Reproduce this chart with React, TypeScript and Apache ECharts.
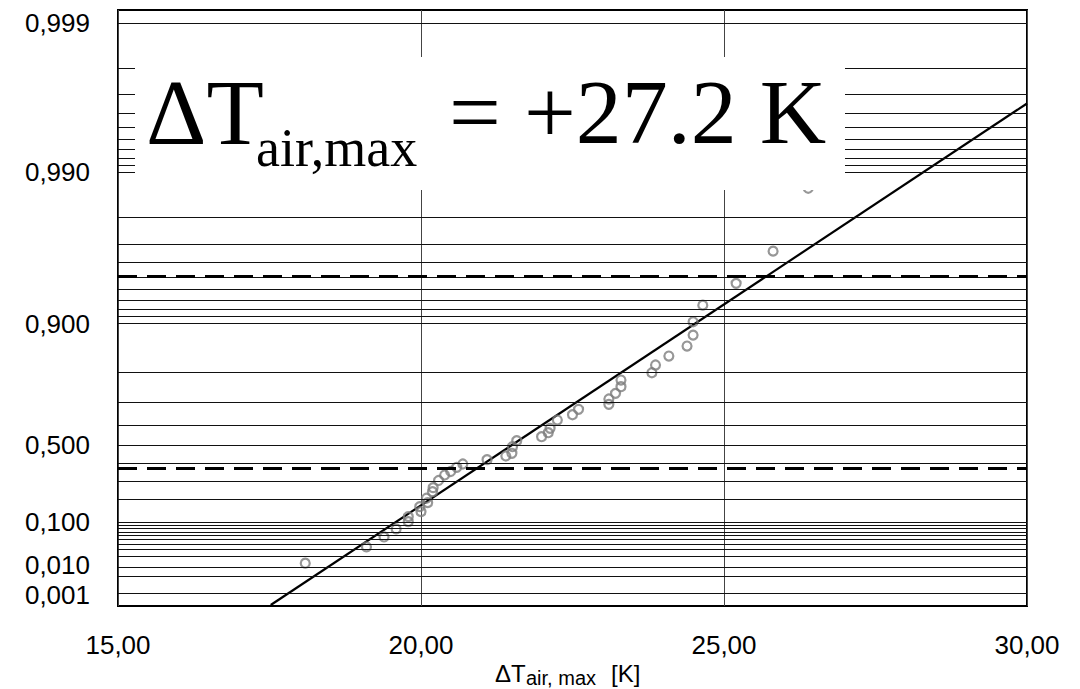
import React, { useEffect, useRef } from "react";
import * as echarts from "echarts";

// ---- data ----
const xTicks = [15, 20, 25, 30];
const gridProbs = [
  0.001, 0.005, 0.01, 0.02, 0.03, 0.04, 0.05, 0.06, 0.07, 0.08, 0.09, 0.1,
  0.2, 0.3, 0.4, 0.5, 0.6, 0.7, 0.8, 0.9, 0.91, 0.92, 0.93, 0.94, 0.95, 0.96,
  0.97, 0.98, 0.99, 0.991, 0.992, 0.993, 0.994, 0.995, 0.996, 0.997, 0.998, 0.999,
];
const labelProbs = [0.001, 0.01, 0.1, 0.5, 0.9, 0.99, 0.999];
const labelTexts = ["0,001", "0,010", "0,100", "0,500", "0,900", "0,990", "0,999"];
const dashedProbs = [0.368, 0.951];
const obsX = [
  18.09, 19.1, 19.39, 19.59, 19.79, 19.79, 20.0, 19.98, 20.11, 20.09, 20.19,
  20.2, 20.29, 20.39, 20.49, 20.59, 20.69, 21.09, 21.4, 21.5, 21.51, 21.58,
  21.99, 22.1, 22.13, 22.25, 22.5, 22.6, 23.1, 23.1, 23.21, 23.3, 23.3, 23.81,
  23.87, 24.09, 24.39, 24.49, 24.49, 24.65, 25.2, 25.81, 26.39,
];
const obsP = [
  0.0131, 0.0345, 0.0559, 0.0783, 0.1028, 0.1219, 0.1426, 0.165, 0.1838,
  0.2055, 0.2396, 0.2611, 0.3009, 0.332, 0.3519, 0.3759, 0.3947, 0.419,
  0.4399, 0.4549, 0.4912, 0.5232, 0.544, 0.5643, 0.586, 0.625, 0.6487,
  0.6717, 0.6919, 0.7123, 0.733, 0.7556, 0.7767, 0.798, 0.8186, 0.8402,
  0.8615, 0.8818, 0.9028, 0.924, 0.9452, 0.9664, 0.9872,
];
const fitX = [17.52, 30.0];
const fitP = [0.00025, 0.99655];
const axisRangeP = [0.00022, 0.99919];

// Gumbel reduced variate (probability paper scale)
const gumbel = (p: number) => -Math.log(-Math.log(p));

const SANS = "'Liberation Sans', Arial, sans-serif";
const SERIF = "'Liberation Serif', 'Times New Roman', serif";

export default function App() {
  const ref = useRef<HTMLDivElement>(null);

  useEffect(() => {
    if (!ref.current) return;
    const chart = echarts.init(ref.current, null, { renderer: "svg" });

    const gridLineData = gridProbs.map((p) => {
      const li = labelProbs.indexOf(p);
      const nudge = p === 0.001 ? 2 : p === 0.01 ? -2 : 0;
      return {
        yAxis: gumbel(p),
        lineStyle: { color: "#111", width: 1, type: "solid" },
        label:
          li >= 0
            ? {
                show: true,
                position: "start",
                distance: 28,
                offset: [0, nudge],
                formatter: labelTexts[li],
                color: "#000",
                fontSize: 26,
                lineHeight: 22,
                fontFamily: SANS,
              }
            : { show: false },
      };
    });
    const dashedData = dashedProbs.map((p) => ({
      yAxis: gumbel(p),
      lineStyle: { color: "#000", width: 3, type: [19, 10] },
      label: { show: false },
    }));

    chart.setOption({
      animation: false,
      backgroundColor: "#fff",
      grid: {
        left: 118,
        right: 53,
        top: 10,
        bottom: 83,
        containLabel: false,
        outerBoundsMode: "none",
        show: true,
        borderColor: "#000",
        borderWidth: 2,
        backgroundColor: "rgba(0,0,0,0)",
      },
      xAxis: {
        type: "value",
        min: xTicks[0],
        max: xTicks[xTicks.length - 1],
        interval: xTicks[1] - xTicks[0],
        axisLine: { show: false },
        axisTick: { show: false },
        splitLine: { show: true, lineStyle: { color: "#444", width: 1 } },
        axisLabel: {
          margin: 26,
          color: "#000",
          fontSize: 26,
          fontFamily: SANS,
          formatter: (v: number) => v.toFixed(2).replace(".", ","),
        },
      },
      yAxis: {
        type: "value",
        min: gumbel(axisRangeP[0]),
        max: gumbel(axisRangeP[1]),
        axisLine: { show: false },
        axisTick: { show: false },
        axisLabel: { show: false },
        splitLine: { show: false },
      },
      series: [
        {
          type: "line",
          data: [],
          z: 1,
          silent: true,
          markLine: {
            silent: true,
            symbol: ["none", "none"],
            animation: false,
            data: [...gridLineData, ...dashedData],
          },
        },
        {
          type: "line",
          z: 2,
          silent: true,
          clip: true,
          symbol: "none",
          lineStyle: { color: "#000", width: 2.2 },
          data: fitX.map((x, i) => [x, gumbel(fitP[i])]),
        },
        {
          type: "scatter",
          z: 3,
          silent: true,
          symbol: "circle",
          symbolSize: 9,
          itemStyle: {
            color: "rgba(255,255,255,0)",
            borderColor: "#7d7d7d",
            borderWidth: 2.2,
          },
          data: obsX.map((x, i) => [x, gumbel(obsP[i])]),
        },
      ],
      graphic: [
        {
          type: "rect",
          z: 100,
          shape: { x: 135, y: 57, width: 710, height: 133 },
          style: { fill: "#fff" },
        },
        {
          type: "text",
          z: 101,
          x: 146,
          y: 112,
          style: { text: "ΔT", font: `94px ${SERIF}`, fill: "#000", align: "left", verticalAlign: "middle" },
        },
        {
          type: "text",
          z: 101,
          x: 256,
          y: 148,
          style: { text: "air,max", font: `54px ${SERIF}`, fill: "#000", align: "left", verticalAlign: "middle" },
        },
        {
          type: "text",
          z: 101,
          x: 449,
          y: 112,
          style: { text: "= +27.2 K", font: `92px ${SERIF}`, fill: "#000", align: "left", verticalAlign: "middle" },
        },
        {
          type: "text",
          z: 101,
          x: 495,
          y: 673,
          style: { text: "ΔT", font: `24px ${SANS}`, fill: "#000", align: "left", verticalAlign: "middle" },
        },
        {
          type: "text",
          z: 101,
          x: 526,
          y: 678,
          style: { text: "air, max", font: `20px ${SANS}`, fill: "#000", align: "left", verticalAlign: "middle" },
        },
        {
          type: "text",
          z: 101,
          x: 611,
          y: 673,
          style: { text: "[K]", font: `24px ${SANS}`, fill: "#000", align: "left", verticalAlign: "middle" },
        },
      ],
    });

    return () => chart.dispose();
  }, []);

  return (
    <div
      ref={ref}
      style={{ position: "fixed", left: 0, top: 0, width: 1080, height: 689, background: "#fff" }}
    />
  );
}
